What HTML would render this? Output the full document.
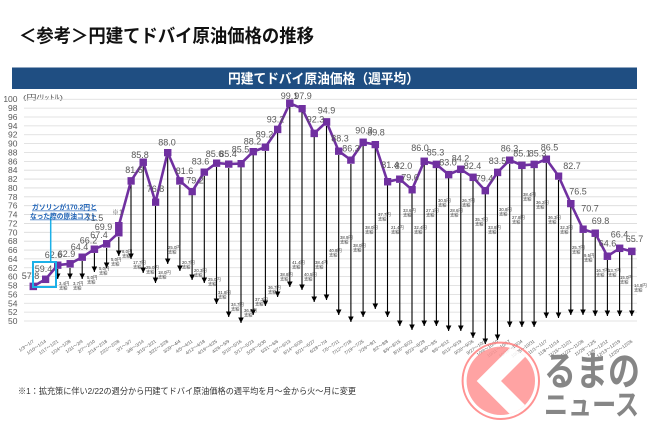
<!DOCTYPE html>
<html><head><meta charset="utf-8"><style>
html,body{margin:0;padding:0;background:#fff;}
svg{display:block;}
</style></head><body>
<svg width="650" height="433" viewBox="0 0 650 433" xmlns="http://www.w3.org/2000/svg">
<defs>
<marker id="sq" markerWidth="8" markerHeight="8" refX="3.75" refY="3.75" markerUnits="userSpaceOnUse" orient="0"><rect width="7.5" height="7.5" fill="#7030a0"/></marker>
<marker id="ah" markerWidth="8" markerHeight="8" refX="5.5" refY="2.8" orient="auto" markerUnits="userSpaceOnUse"><path d="M0,0 L5.5,2.8 L0,5.6 z" fill="#000"/></marker>
<clipPath id="disc"><circle cx="500.8" cy="380.8" r="34.2"/></clipPath>
</defs>
<rect width="650" height="433" fill="#fff"/>
<!-- title -->
<text x="19" y="42.5" font-family="'Liberation Sans','Noto Sans CJK JP',sans-serif" font-weight="bold" font-size="18.5" fill="#111" textLength="295" lengthAdjust="spacingAndGlyphs">＜参考＞円建てドバイ原油価格の推移</text>
<!-- header bar -->
<rect x="12" y="67.5" width="625" height="21.5" fill="#1f4e82"/>
<text x="228" y="83.5" font-family="'Liberation Sans','Noto Sans CJK JP',sans-serif" font-weight="bold" font-size="13.5" fill="#fff" textLength="191" lengthAdjust="spacingAndGlyphs">円建てドバイ原油価格（週平均）</text>
<text x="23" y="99.5" font-family="'Liberation Sans','Noto Sans CJK JP',sans-serif" font-size="6.8" fill="#595959" textLength="40" lengthAdjust="spacingAndGlyphs">(円/ﾘｯﾄﾙ)</text>
<!-- grid -->
<path d="M24,99.25H637M24,108.12H637M24,116.99H637M24,125.86H637M24,134.73H637M24,143.6H637M24,152.47H637M24,161.34H637M24,170.21H637M24,179.08H637M24,187.95H637M24,196.82H637M24,205.69H637M24,214.56H637M24,223.43H637M24,232.3H637M24,241.17H637M24,250.04H637M24,258.91H637M24,267.78H637M24,276.65H637M24,285.52H637M24,294.39H637M24,303.26H637M24,312.13H637M24,321H637" stroke="#dadada" stroke-width="0.8" fill="none"/>
<!-- y labels -->
<g font-family="'Liberation Sans',sans-serif" font-size="8.5" fill="#595959" text-anchor="end">
<text x="17.5" y="102.2">100</text><text x="17.5" y="111.1">98</text><text x="17.5" y="120">96</text><text x="17.5" y="128.9">94</text><text x="17.5" y="137.7">92</text><text x="17.5" y="146.6">90</text><text x="17.5" y="155.5">88</text><text x="17.5" y="164.3">86</text><text x="17.5" y="173.2">84</text><text x="17.5" y="182.1">82</text><text x="17.5" y="191">80</text><text x="17.5" y="199.8">78</text><text x="17.5" y="208.7">76</text><text x="17.5" y="217.6">74</text><text x="17.5" y="226.4">72</text><text x="17.5" y="235.3">70</text><text x="17.5" y="244.2">68</text><text x="17.5" y="253">66</text><text x="17.5" y="261.9">64</text><text x="17.5" y="270.8">62</text><text x="17.5" y="279.7">60</text><text x="17.5" y="288.5">58</text><text x="17.5" y="297.4">56</text><text x="17.5" y="306.3">54</text><text x="17.5" y="315.1">52</text><text x="17.5" y="324">50</text>
</g>
<!-- arrows -->
<g stroke="#000" stroke-width="1.1" marker-end="url(#ah)">
<line x1="57.7" y1="269" x2="57.7" y2="279"/><line x1="70" y1="268" x2="70" y2="279"/><line x1="82.2" y1="261" x2="82.2" y2="279"/><line x1="94.4" y1="253" x2="94.4" y2="272"/><line x1="106.6" y1="248" x2="106.6" y2="268"/><line x1="118.8" y1="237" x2="118.8" y2="256"/><line x1="131" y1="185" x2="131" y2="259"/><line x1="143.2" y1="166" x2="143.2" y2="273"/><line x1="155.5" y1="206" x2="155.5" y2="283"/><line x1="167.7" y1="156" x2="167.7" y2="264"/><line x1="179.9" y1="185" x2="179.9" y2="271"/><line x1="192.1" y1="195" x2="192.1" y2="280"/><line x1="204.3" y1="176" x2="204.3" y2="283"/><line x1="216.5" y1="167" x2="216.5" y2="304"/><line x1="228.7" y1="168" x2="228.7" y2="317"/><line x1="241" y1="167" x2="241" y2="323"/><line x1="253.2" y1="155" x2="253.2" y2="315"/><line x1="265.4" y1="151" x2="265.4" y2="306"/><line x1="277.6" y1="133" x2="277.6" y2="297"/><line x1="289.8" y1="107" x2="289.8" y2="287"/><line x1="302" y1="112" x2="302" y2="290"/><line x1="314.2" y1="137" x2="314.2" y2="302"/><line x1="326.5" y1="126" x2="326.5" y2="300"/><line x1="338.7" y1="155" x2="338.7" y2="315"/><line x1="350.9" y1="164" x2="350.9" y2="322"/><line x1="363.1" y1="146" x2="363.1" y2="317"/><line x1="375.3" y1="148" x2="375.3" y2="309"/><line x1="387.5" y1="185" x2="387.5" y2="317"/><line x1="399.8" y1="183" x2="399.8" y2="326"/><line x1="412" y1="193" x2="412" y2="330"/><line x1="424.2" y1="165" x2="424.2" y2="326"/><line x1="436.4" y1="168" x2="436.4" y2="326"/><line x1="448.6" y1="178" x2="448.6" y2="331"/><line x1="460.8" y1="173" x2="460.8" y2="331"/><line x1="473" y1="181" x2="473" y2="338"/><line x1="485.3" y1="194" x2="485.3" y2="344"/><line x1="497.5" y1="176" x2="497.5" y2="340"/><line x1="509.7" y1="164" x2="509.7" y2="327"/><line x1="521.9" y1="169" x2="521.9" y2="327"/><line x1="534.1" y1="168" x2="534.1" y2="327"/><line x1="546.3" y1="163" x2="546.3" y2="318"/><line x1="558.5" y1="180" x2="558.5" y2="318"/><line x1="570.8" y1="207" x2="570.8" y2="315"/><line x1="583" y1="233" x2="583" y2="315"/><line x1="595.2" y1="237" x2="595.2" y2="316"/><line x1="607.4" y1="260" x2="607.4" y2="316"/><line x1="619.6" y1="252" x2="619.6" y2="316"/><line x1="631.8" y1="255" x2="631.8" y2="316"/>
</g>
<!-- subsidy labels -->
<g font-family="'Liberation Sans','Noto Sans CJK JP',sans-serif" font-size="4.3" fill="#333">
<text x="59" y="285">3.4円<tspan x="59" dy="4.5">支給</tspan></text>
<text x="73" y="285">3.7円<tspan x="73" dy="4.5">支給</tspan></text>
<text x="87" y="279">5.0円<tspan x="87" dy="4.5">支給</tspan></text>
<text x="99" y="270">5.0円<tspan x="99" dy="4.5">支給</tspan></text>
<text x="111" y="261">5.0円<tspan x="111" dy="4.5">支給</tspan></text>
<text x="122" y="253">8.0円<tspan x="122" dy="4.5">支給</tspan></text>
<text x="133" y="264">17.7円<tspan x="133" dy="4.5">支給</tspan></text>
<text x="146" y="269">25.0円<tspan x="146" dy="4.5">支給</tspan></text>
<text x="158" y="274">18.0円<tspan x="158" dy="4.5">支給</tspan></text>
<text x="168" y="249">25.0円<tspan x="168" dy="4.5">支給</tspan></text>
<text x="182" y="264">20.7円<tspan x="182" dy="4.5">支給</tspan></text>
<text x="194" y="272">20.3円<tspan x="194" dy="4.5">支給</tspan></text>
<text x="208" y="281">25.0円<tspan x="208" dy="4.5">支給</tspan></text>
<text x="218" y="294">31.8円<tspan x="218" dy="4.5">支給</tspan></text>
<text x="231" y="306">34.7円<tspan x="231" dy="4.5">支給</tspan></text>
<text x="244" y="312">36.0円<tspan x="244" dy="4.5">支給</tspan></text>
<text x="255" y="301">37.3円<tspan x="255" dy="4.5">支給</tspan></text>
<text x="268" y="289">36.7円<tspan x="268" dy="4.5">支給</tspan></text>
<text x="280" y="276">38.8円<tspan x="280" dy="4.5">支給</tspan></text>
<text x="292" y="264">41.4円<tspan x="292" dy="4.5">支給</tspan></text>
<text x="304" y="276">40.5円<tspan x="304" dy="4.5">支給</tspan></text>
<text x="315" y="264">38.4円<tspan x="315" dy="4.5">支給</tspan></text>
<text x="329" y="252">40.8円<tspan x="329" dy="4.5">支給</tspan></text>
<text x="340" y="239">38.9円<tspan x="340" dy="4.5">支給</tspan></text>
<text x="353" y="247">38.0円<tspan x="353" dy="4.5">支給</tspan></text>
<text x="365" y="229">38.0円<tspan x="365" dy="4.5">支給</tspan></text>
<text x="378" y="216">37.7円<tspan x="378" dy="4.5">支給</tspan></text>
<text x="391" y="229">21.4円<tspan x="391" dy="4.5">支給</tspan></text>
<text x="403" y="212">33.6円<tspan x="403" dy="4.5">支給</tspan></text>
<text x="414" y="229">32.4円<tspan x="414" dy="4.5">支給</tspan></text>
<text x="426" y="212">27.1円<tspan x="426" dy="4.5">支給</tspan></text>
<text x="438" y="202">30.5円<tspan x="438" dy="4.5">支給</tspan></text>
<text x="450" y="212">28.6円<tspan x="450" dy="4.5">支給</tspan></text>
<text x="462" y="202">26.7円<tspan x="462" dy="4.5">支給</tspan></text>
<text x="475" y="221">35.7円<tspan x="475" dy="4.5">支給</tspan></text>
<text x="488" y="229">33.8円<tspan x="488" dy="4.5">支給</tspan></text>
<text x="499" y="211">30.8円<tspan x="499" dy="4.5">支給</tspan></text>
<text x="512" y="219">27.8円<tspan x="512" dy="4.5">支給</tspan></text>
<text x="523" y="196">38.4円<tspan x="523" dy="4.5">支給</tspan></text>
<text x="536" y="204">36.2円<tspan x="536" dy="4.5">支給</tspan></text>
<text x="548" y="219">36.3円<tspan x="548" dy="4.5">支給</tspan></text>
<text x="560" y="229">32.3円<tspan x="560" dy="4.5">支給</tspan></text>
<text x="572" y="249">25.7円<tspan x="572" dy="4.5">支給</tspan></text>
<text x="584" y="257">9.5円<tspan x="584" dy="4.5">支給</tspan></text>
<text x="596" y="272">16.7円<tspan x="596" dy="4.5">支給</tspan></text>
<text x="608" y="272">13.7円<tspan x="608" dy="4.5">支給</tspan></text>
<text x="620" y="279">15.0円<tspan x="620" dy="4.5">支給</tspan></text>
<text x="634" y="287">14.8円<tspan x="634" dy="4.5">支給</tspan></text>
</g>
<!-- series line -->
<polyline fill="none" stroke="#7030a0" stroke-width="2.6" stroke-linejoin="round" marker-start="url(#sq)" marker-mid="url(#sq)" marker-end="url(#sq)" points="33.3,286.4 45.5,279.3 57.7,265.1 70,263.8 82.2,257.1 94.4,249.2 106.6,243.8 118.8,232.7 118.8,225.6 131,180.9 143.2,162.2 155.5,202.1 167.7,152.5 179.9,180.9 192.1,191.5 204.3,172 216.5,163.1 228.7,164 241,163.6 253.2,151.6 265.4,147.1 277.6,129.4 289.8,103.2 302,108.6 314.2,133.4 326.5,121.9 338.7,151.1 350.9,160 363.1,142.3 375.3,144.5 387.5,181.7 399.8,179.1 412,189.7 424.2,161.3 436.4,164.4 448.6,174.6 460.8,169.3 473,177.3 485.3,190.6 497.5,172.4 509.7,160 521.9,165.3 534.1,164.4 546.3,159.1 558.5,176 570.8,203.5 583,229.2 595.2,233.2 607.4,256.2 619.6,248.3 631.8,251.4"/>
<!-- value labels -->
<g font-family="'Liberation Sans',sans-serif" font-size="9" fill="#595959" text-anchor="middle">
<text x="30.5" y="279">57.8</text><text x="43.5" y="272">59.4</text><text x="53.5" y="258">62.6</text><text x="66.5" y="257">62.9</text><text x="79.5" y="250">64.4</text><text x="88.5" y="243.6">66.2</text><text x="99" y="238">67.4</text><text x="103.5" y="230">69.9</text><text x="94.5" y="221">71.5</text>
<text x="134" y="173">81.6</text><text x="140" y="158">85.8</text><text x="155.5" y="192">76.8</text><text x="167" y="145.7">88.0</text><text x="184.5" y="174">81.6</text><text x="195" y="183.7">79.2</text><text x="200.5" y="164.7">83.6</text><text x="214.5" y="157">85.6</text><text x="228" y="157">85.4</text><text x="240.5" y="152.3">85.5</text><text x="252.5" y="144.7">88.2</text><text x="264.5" y="137.3">89.2</text><text x="275.5" y="122.3">93.2</text><text x="289.5" y="99">99.1</text><text x="303" y="99">97.9</text><text x="315.5" y="122.3">92.3</text><text x="326.5" y="113.7">94.9</text><text x="340" y="141.3">88.3</text><text x="351" y="151.3">86.3</text><text x="364" y="133.7">90.3</text><text x="376" y="135.7">89.8</text><text x="390" y="168">81.4</text><text x="403.5" y="169">82.0</text><text x="410" y="180.3">79.6</text><text x="420" y="151">86.0</text><text x="435.5" y="155.7">85.3</text><text x="448" y="165.7">83.0</text><text x="460.5" y="161.3">84.2</text><text x="472.5" y="169">82.4</text><text x="484.5" y="181.3">79.4</text><text x="497.5" y="164">83.5</text><text x="509.5" y="151.3">86.3</text><text x="522" y="156.3">85.1</text><text x="537.5" y="156.3">85.3</text><text x="549.5" y="150.3">86.5</text><text x="572" y="169">82.7</text><text x="578" y="194.7">76.5</text><text x="590" y="211.3">70.7</text><text x="600.5" y="224">69.8</text><text x="607.5" y="246.3">64.6</text><text x="619.5" y="237.3">66.4</text><text x="634.5" y="242">65.7</text>
</g>
<text x="117.5" y="214.5" font-family="'Liberation Sans','Noto Sans CJK JP',sans-serif" font-size="7" fill="#595959" text-anchor="middle">※1</text>
<!-- annotation -->
<rect x="33" y="262" width="23" height="25" fill="none" stroke="#1cb0e8" stroke-width="2"/>
<line x1="50.7" y1="216.7" x2="50.7" y2="262" stroke="#1cb0e8" stroke-width="1.5"/>
<g font-family="'Liberation Sans','Noto Sans CJK JP',sans-serif" font-size="7" font-weight="bold" fill="#2466b8" text-decoration="underline">
<text x="32" y="209.5" textLength="65" lengthAdjust="spacingAndGlyphs">ガソリンが170.2円と</text>
<text x="30" y="218.5" textLength="67" lengthAdjust="spacingAndGlyphs">なった際の原油コスト</text>
</g>
<!-- x labels -->
<g font-family="'Liberation Sans','Noto Sans CJK JP',sans-serif" font-size="4.6" fill="#595959" text-anchor="end">
<text transform="translate(34.3,342) rotate(-35)">1/3～1/7</text>
<text transform="translate(46.5,342) rotate(-35)">1/10～1/14</text>
<text transform="translate(58.7,342) rotate(-35)">1/17～1/21</text>
<text transform="translate(71,342) rotate(-35)">1/24～1/28</text>
<text transform="translate(83.2,342) rotate(-35)">1/31～2/4</text>
<text transform="translate(95.4,342) rotate(-35)">2/7～2/10</text>
<text transform="translate(107.6,342) rotate(-35)">2/14～2/18</text>
<text transform="translate(119.8,342) rotate(-35)">2/22～2/28</text>
<text transform="translate(132,342) rotate(-35)">3/1～3/7</text>
<text transform="translate(144.2,342) rotate(-35)">3/8～3/14</text>
<text transform="translate(156.5,342) rotate(-35)">3/15～3/21</text>
<text transform="translate(168.7,342) rotate(-35)">3/22～3/28</text>
<text transform="translate(180.9,342) rotate(-35)">3/29～4/4</text>
<text transform="translate(193.1,342) rotate(-35)">4/5～4/11</text>
<text transform="translate(205.3,342) rotate(-35)">4/12～4/18</text>
<text transform="translate(217.5,342) rotate(-35)">4/19～4/25</text>
<text transform="translate(229.7,342) rotate(-35)">4/26～5/9</text>
<text transform="translate(242,342) rotate(-35)">5/10～5/16</text>
<text transform="translate(254.2,342) rotate(-35)">5/17～5/23</text>
<text transform="translate(266.4,342) rotate(-35)">5/24～5/30</text>
<text transform="translate(278.6,342) rotate(-35)">5/31～6/6</text>
<text transform="translate(290.8,342) rotate(-35)">6/7～6/13</text>
<text transform="translate(303,342) rotate(-35)">6/14～6/20</text>
<text transform="translate(315.2,342) rotate(-35)">6/21～6/27</text>
<text transform="translate(327.5,342) rotate(-35)">6/28～7/4</text>
<text transform="translate(339.7,342) rotate(-35)">7/5～7/11</text>
<text transform="translate(351.9,342) rotate(-35)">7/12～7/18</text>
<text transform="translate(364.1,342) rotate(-35)">7/19～7/25</text>
<text transform="translate(376.3,342) rotate(-35)">7/26～8/1</text>
<text transform="translate(388.5,342) rotate(-35)">8/2～8/8</text>
<text transform="translate(400.8,342) rotate(-35)">8/9～8/15</text>
<text transform="translate(413,342) rotate(-35)">8/16～8/22</text>
<text transform="translate(425.2,342) rotate(-35)">8/23～8/29</text>
<text transform="translate(437.4,342) rotate(-35)">8/30～9/5</text>
<text transform="translate(449.6,342) rotate(-35)">9/6～9/12</text>
<text transform="translate(461.8,342) rotate(-35)">9/13～9/19</text>
<text transform="translate(474,342) rotate(-35)">9/20～9/26</text>
<text transform="translate(486.3,342) rotate(-35)">9/27～10/3</text>
<text transform="translate(498.5,342) rotate(-35)">10/4～10/10</text>
<text transform="translate(510.7,342) rotate(-35)">10/11～10/17</text>
<text transform="translate(522.9,342) rotate(-35)">10/18～10/24</text>
<text transform="translate(535.1,342) rotate(-35)">10/25～10/31</text>
<text transform="translate(547.3,342) rotate(-35)">11/1～11/7</text>
<text transform="translate(559.5,342) rotate(-35)">11/8～11/14</text>
<text transform="translate(571.8,342) rotate(-35)">11/15～11/21</text>
<text transform="translate(584,342) rotate(-35)">11/22～11/28</text>
<text transform="translate(596.2,342) rotate(-35)">11/29～12/5</text>
<text transform="translate(608.4,342) rotate(-35)">12/6～12/12</text>
<text transform="translate(620.6,342) rotate(-35)">12/13～12/19</text>
<text transform="translate(632.8,342) rotate(-35)">12/20～12/26</text>
</g>
<!-- footnote -->
<text x="18" y="394" font-family="'Liberation Sans','Noto Sans CJK JP',sans-serif" font-size="8.5" fill="#333" textLength="338" lengthAdjust="spacingAndGlyphs">※1：拡充策に伴い2/22の週分から円建てドバイ原油価格の週平均を月～金から火～月に変更</text>
<!-- logo -->
<g opacity="0.85">
<circle cx="500.8" cy="380.8" r="38.2" fill="none" stroke="#ff7f7f" stroke-width="2"/>
<circle cx="500.8" cy="380.8" r="34.2" fill="#ff9494"/>
<polygon clip-path="url(#disc)" points="476.7,381 521.7,336 546,336 501,381 546,426 521.7,426" fill="#fff"/>
</g>
<g font-family="'Liberation Sans','Noto Sans CJK JP',sans-serif" font-weight="bold" fill="#808080" opacity="0.95">
<text x="544" y="385" font-size="40" textLength="96" lengthAdjust="spacingAndGlyphs">るまの</text>
<text x="544" y="415" font-size="29" textLength="95" lengthAdjust="spacingAndGlyphs">ニュース</text>
</g>
</svg>
</body></html>
